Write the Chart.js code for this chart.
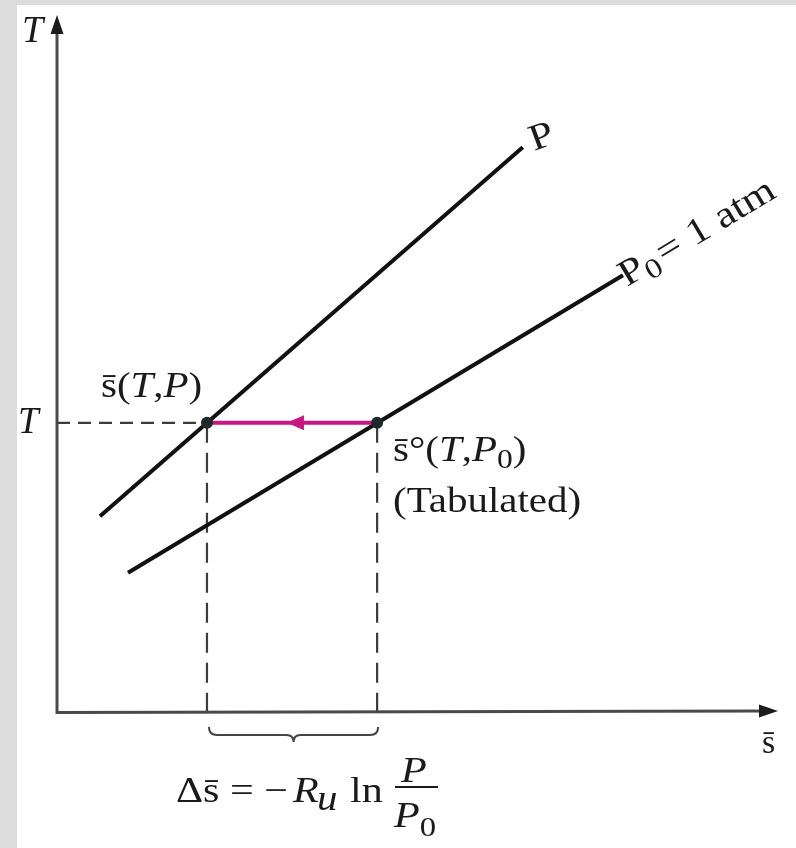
<!DOCTYPE html>
<html><head><meta charset="utf-8">
<script src="https://cdn.jsdelivr.net/npm/chart.js@4"></script>
<style>html,body{margin:0;padding:0;background:#fff;} canvas{display:block}</style>
</head><body>
<canvas id="c" width="796" height="848" style="width:796px;height:848px"></canvas>
<script>
// ---- data (entropy s on x, temperature T on y, arbitrary units 0..100) ----
const lineP_s  = [5.96, 64.6];
const lineP_T  = [27.98, 81.0];
const lineP0_s = [9.85, 78.5];
const lineP0_T = [19.87, 62.6];
const state_s  = [20.8, 44.4];   // s(T,P) , s°(T,P0)
const state_T  = 41.4;
const axisMin = 0, axisMax = 100;

const SERIF = '"Liberation Serif", "Times New Roman", serif';
const SX = 1.17; // horizontal stretch of the lettering

function rich(ctx, x, y, parts, sx) {
  let cx = x;
  for (const p of parts) {
    ctx.save();
    ctx.font = (p.it ? 'italic ' : '') + p.size + 'px ' + SERIF;
    ctx.translate(cx, y + (p.dy || 0));
    ctx.scale(sx, 1);
    ctx.fillText(p.t, 0, 0);
    const w = ctx.measureText(p.t).width * sx;
    ctx.restore();
    cx += w + (p.gap || 0);
  }
  return cx;
}

const deco = {
  id: 'deco',
  beforeDraw(chart) {
    const ctx = chart.ctx;
    ctx.save();
    ctx.fillStyle = '#ffffff';
    ctx.fillRect(0, 0, chart.width, chart.height);
    ctx.fillStyle = '#dcdcdc';
    ctx.fillRect(0, 0, 17, chart.height);
    ctx.fillRect(0, 0, chart.width, 5);
    ctx.restore();
  },
  beforeDatasetsDraw(chart) {
    const ctx = chart.ctx, xs = chart.scales.x, ys = chart.scales.y;
    const x0 = xs.getPixelForValue(axisMin), y0 = ys.getPixelForValue(axisMin);
    const xt = xs.getPixelForValue(axisMax), yt = ys.getPixelForValue(axisMax);
    ctx.save();
    ctx.strokeStyle = '#4a4a4a'; ctx.lineWidth = 3;
    ctx.beginPath();
    ctx.moveTo(x0, yt + 14); ctx.lineTo(x0, y0 + 1.5); ctx.lineTo(xt - 14, y0);
    ctx.stroke();
    ctx.fillStyle = '#1c1c1c';
    ctx.beginPath(); ctx.moveTo(x0, yt); ctx.lineTo(x0 - 6.5, yt + 19); ctx.lineTo(x0 + 6.5, yt + 19); ctx.closePath(); ctx.fill();
    ctx.beginPath(); ctx.moveTo(xt, y0); ctx.lineTo(xt - 19, y0 - 6.5); ctx.lineTo(xt - 19, y0 + 6.5); ctx.closePath(); ctx.fill();
    ctx.restore();
  },
  afterDatasetsDraw(chart) {
    const ctx = chart.ctx, xs = chart.scales.x, ys = chart.scales.y;
    const xa = xs.getPixelForValue(state_s[0]), xb = xs.getPixelForValue(state_s[1]);
    const yT = ys.getPixelForValue(state_T), y0 = ys.getPixelForValue(axisMin);
    ctx.save();
    // magenta arrowhead
    const tip = xb - (xb - xa) * 0.53;
    ctx.fillStyle = '#c8157f';
    ctx.beginPath(); ctx.moveTo(tip, yT); ctx.lineTo(tip + 17, yT - 7.5); ctx.lineTo(tip + 17, yT + 7.5); ctx.closePath(); ctx.fill();
    // brace
    const bl = xa + 2, br = xb + 1, bm = (bl + br) / 2, bt = y0 + 16, bb = y0 + 31, bmid = y0 + 24;
    ctx.strokeStyle = '#444'; ctx.lineWidth = 2;
    ctx.beginPath();
    ctx.moveTo(bl, bt);
    ctx.quadraticCurveTo(bl, bmid, bl + 8, bmid);
    ctx.lineTo(bm - 7, bmid);
    ctx.quadraticCurveTo(bm, bmid, bm, bb);
    ctx.quadraticCurveTo(bm, bmid, bm + 7, bmid);
    ctx.lineTo(br - 8, bmid);
    ctx.quadraticCurveTo(br, bmid, br, bt);
    ctx.stroke();

    ctx.fillStyle = '#1a1a1a';
    ctx.textBaseline = 'alphabetic';
    // axis titles
    rich(ctx, 22, 42, [{t: 'T', it: true, size: 38}], 1);
    rich(ctx, 18, 433, [{t: 'T', it: true, size: 37}], 1);
    rich(ctx, 762, 753, [{t: 's\u0304', size: 34}], 1);
    // state labels
    rich(ctx, 101, 397, [
      {t: 's\u0304', size: 35}, {t: '(', size: 35}, {t: 'T', it: true, size: 35},
      {t: ',', size: 35}, {t: 'P', it: true, size: 35}, {t: ')', size: 35}], SX);
    rich(ctx, 393, 461, [
      {t: 's\u0304\u00b0(', size: 35}, {t: 'T', it: true, size: 35}, {t: ',', size: 35},
      {t: 'P', it: true, size: 35}, {t: '0', size: 27, dy: 7}, {t: ')', size: 35}], SX);
    rich(ctx, 393, 512, [{t: '(Tabulated)', size: 35}], SX);
    // line labels
    ctx.save();
    ctx.translate(534, 151); ctx.rotate(-20 * Math.PI / 180);
    rich(ctx, 0, 0, [{t: 'P', size: 37}], SX);
    ctx.restore();
    ctx.save();
    ctx.translate(627, 287); ctx.rotate(-31 * Math.PI / 180);
    rich(ctx, 0, 0, [{t: 'P', size: 37}, {t: '0', size: 28, dy: 7, gap: 3}, {t: '= 1 atm', size: 37}], SX);
    ctx.restore();
    // formula
    rich(ctx, 176, 802, [{t: '\u0394s\u0304', size: 36}], SX);
    rich(ctx, 230, 802, [{t: '=', size: 36}], SX);
    rich(ctx, 264, 802, [{t: '\u2212', size: 36}], SX);
    rich(ctx, 293, 802, [{t: 'R', it: true, size: 36}], SX);
    rich(ctx, 317, 810, [{t: 'u', it: true, size: 35}], SX);
    rich(ctx, 350, 802, [{t: 'ln', size: 36}], SX);
    ctx.fillRect(395, 786, 43, 2);
    rich(ctx, 401, 782, [{t: 'P', it: true, size: 36}], SX);
    rich(ctx, 394, 827, [{t: 'P', it: true, size: 36}, {t: '0', size: 28, dy: 9}], SX);
    ctx.restore();
  }
};

const pts = (sArr, tArr) => sArr.map((s, i) => ({x: s, y: tArr[i]}));

new Chart(document.getElementById('c'), {
  type: 'scatter',
  data: {
    datasets: [
      {label: 'states', data: state_s.map(s => ({x: s, y: state_T})), showLine: false,
       pointRadius: 6, backgroundColor: '#1e2a2a', borderWidth: 0},
      {label: 'shift', data: [{x: state_s[1], y: state_T}, {x: state_s[0], y: state_T}], showLine: true,
       borderColor: '#c8157f', borderWidth: 4, pointRadius: 0},
      {label: 'P', data: pts(lineP_s, lineP_T), showLine: true, borderColor: '#111', borderWidth: 4, pointRadius: 0},
      {label: 'P0 = 1 atm', data: pts(lineP0_s, lineP0_T), showLine: true, borderColor: '#111', borderWidth: 4, pointRadius: 0},
      {label: 'T guide', data: [{x: axisMin, y: state_T}, {x: state_s[0], y: state_T}], showLine: true,
       borderColor: '#3c3c3c', borderWidth: 2.2, borderDash: [13, 8], pointRadius: 0},
      {label: 's guide 1', data: [{x: state_s[0], y: state_T}, {x: state_s[0], y: axisMin}], showLine: true,
       borderColor: '#3c3c3c', borderWidth: 2.2, borderDash: [20, 10], pointRadius: 0},
      {label: 's guide 2', data: [{x: state_s[1], y: state_T}, {x: state_s[1], y: axisMin}], showLine: true,
       borderColor: '#3c3c3c', borderWidth: 2.2, borderDash: [20, 10], pointRadius: 0}
    ]
  },
  options: {
    responsive: false, animation: false, events: [],
    layout: {padding: {left: 57, top: 15, right: 18, bottom: 137}},
    plugins: {legend: {display: false}, tooltip: {enabled: false}},
    scales: {
      x: {type: 'linear', min: axisMin, max: axisMax, display: false},
      y: {type: 'linear', min: axisMin, max: axisMax, display: false}
    }
  },
  plugins: [deco]
});
</script>
</body></html>
